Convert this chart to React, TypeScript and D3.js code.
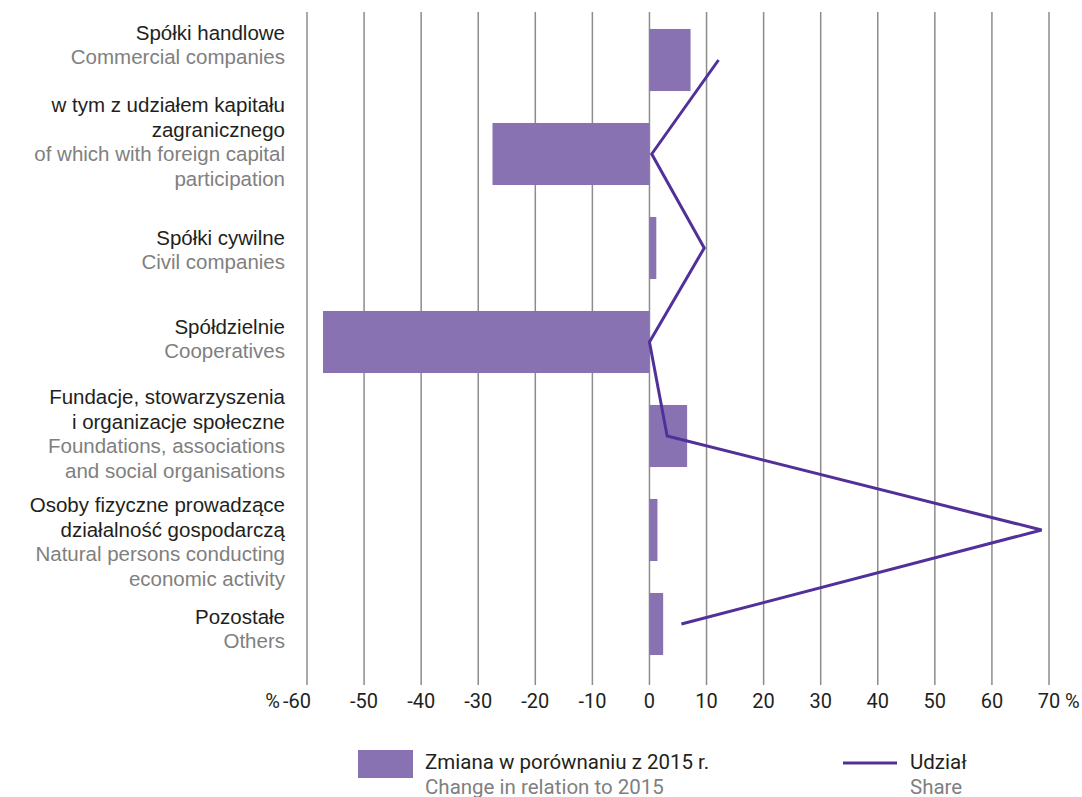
import React from "react";
import * as d3 from "d3";

// Polish labels (black) and English labels (grey), one entry per row
const categoriesPl: string[][] = [
  ["Spółki handlowe"],
  ["w tym z udziałem kapitału", "zagranicznego"],
  ["Spółki cywilne"],
  ["Spółdzielnie"],
  ["Fundacje, stowarzyszenia", "i organizacje społeczne"],
  ["Osoby fizyczne prowadzące", "działalność gospodarczą"],
  ["Pozostałe"],
];
const categoriesEn: string[][] = [
  ["Commercial companies"],
  ["of which with foreign capital", "participation"],
  ["Civil companies"],
  ["Cooperatives"],
  ["Foundations, associations", "and social organisations"],
  ["Natural persons conducting", "economic activity"],
  ["Others"],
];

// Change in relation to 2015 (%)
const changeValues = [7.2, -27.5, 1.2, -57.2, 6.6, 1.4, 2.4];
// Share (%)
const shareValues = [12.1, 0.4, 9.6, 0.0, 3.1, 68.7, 5.6];

const xTicks = [-60, -50, -40, -30, -20, -10, 0, 10, 20, 30, 40, 50, 60, 70];

const WIDTH = 1082;
const HEIGHT = 797;
const BAR_COLOR = "#8872b2";
const LINE_COLOR = "#51309a";
const GRID_COLOR = "#8c8c8c";
const DARK = "#231f20";
const GREY = "#808080";
const LABEL_FONT = "'Liberation Sans', Arial, sans-serif";
const AXIS_FONT = "Roboto, 'Liberation Sans', sans-serif";

const App: React.FC = () => {
  const x = d3.scaleLinear().domain([-60, 70]).range([307, 1049]);
  const idx = d3.range(categoriesPl.length);
  const y = d3
    .scaleBand<number>()
    .domain(idx)
    .range([13, 671])
    .paddingInner(0.34)
    .paddingOuter(0.17);
  const center = (i: number) => (y(i) || 0) + y.bandwidth() / 2;

  const line = d3
    .line<number>()
    .x((d) => x(d))
    .y((_, i) => center(i));

  const lineH = 24.6;
  const axisY = 701;
  // label blocks are not exactly centred on their rows in the original
  const labelNudge = [-15, -12, 2, -3, -2, 12, 5];

  return (
    <svg width={WIDTH} height={HEIGHT} style={{ display: "block", position: "absolute", left: 0, top: 0 }}>
      <rect width={WIDTH} height={HEIGHT} fill="#fff" />
      {/* gridlines */}
      {xTicks.map((t) => (
        <line
          key={t}
          x1={x(t)}
          x2={x(t)}
          y1={12}
          y2={685}
          stroke={GRID_COLOR}
          strokeWidth={1.5}
        />
      ))}

      {/* bars */}
      {changeValues.map((v, i) => (
        <rect
          key={i}
          x={Math.min(x(0), x(v))}
          y={y(i)}
          width={Math.abs(x(v) - x(0))}
          height={y.bandwidth()}
          fill={BAR_COLOR}
        />
      ))}

      {/* share line */}
      <path d={line(shareValues) || ""} fill="none" stroke={LINE_COLOR} strokeWidth={3} />

      {/* category labels */}
      {idx.map((i) => {
        const lines = [
          ...categoriesPl[i].map((t) => ({ t, c: DARK })),
          ...categoriesEn[i].map((t) => ({ t, c: GREY })),
        ];
        const top = center(i) + labelNudge[i] - ((lines.length - 1) * lineH) / 2;
        return (
          <g key={i}>
            {lines.map((l, j) => (
              <text
                key={j}
                x={285}
                y={top + j * lineH}
                dy="0.35em"
                textAnchor="end"
                fontFamily={LABEL_FONT}
                fontSize={20.5}
                fill={l.c}
              >
                {l.t}
              </text>
            ))}
          </g>
        );
      })}

      {/* x tick labels */}
      {xTicks.map((t, i) => (
        <text
          key={t}
          x={i === 0 ? x(t) - 10 : x(t)}
          y={axisY}
          dy="0.35em"
          textAnchor="middle"
          fontFamily={AXIS_FONT}
          fontSize={20}
          fill={DARK}
        >
          {t}
        </text>
      ))}
      <text x={x(-60) - 27} y={axisY} dy="0.35em" textAnchor="end" fontFamily={AXIS_FONT} fontSize={20} fill={DARK}>
        %
      </text>
      <text x={x(70) + 16} y={axisY} dy="0.35em" textAnchor="start" fontFamily={AXIS_FONT} fontSize={20} fill={DARK}>
        %
      </text>

      {/* legend */}
      <rect x={358} y={750} width={55} height={28} fill={BAR_COLOR} />
      <text x={425} y={769} fontFamily={AXIS_FONT} fontSize={20.5} fill={DARK}>
        Zmiana w porównaniu z 2015 r.
      </text>
      <text x={425} y={794} fontFamily={AXIS_FONT} fontSize={20.5} fill={GREY}>
        Change in relation to 2015
      </text>
      <line x1={843} x2={897} y1={763} y2={763} stroke={LINE_COLOR} strokeWidth={3} />
      <text x={910} y={769} fontFamily={AXIS_FONT} fontSize={20.5} fill={DARK}>
        Udział
      </text>
      <text x={910} y={794} fontFamily={AXIS_FONT} fontSize={20.5} fill={GREY}>
        Share
      </text>
    </svg>
  );
};

export default App;
